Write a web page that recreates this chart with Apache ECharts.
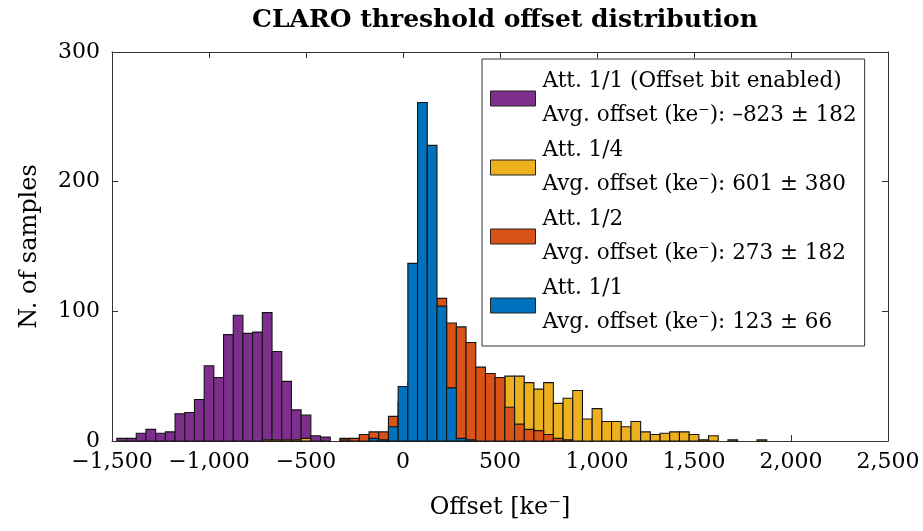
<!DOCTYPE html>
<html>
<head>
<meta charset="utf-8">
<script src="https://cdn.jsdelivr.net/npm/echarts@6/dist/echarts.min.js"></script>
<style>html,body{margin:0;padding:0;background:#fff;}#c{width:923px;height:531px;}</style>
</head>
<body>
<div id="c"></div>
<script>
// Bin centers (ke-), bin width 50
const binCenters = [-1450,-1400,-1350,-1300,-1250,-1200,-1150,-1100,-1050,-1000,-950,-900,-850,-800,-750,-700,-650,-600,-550,-500,-450,-400,-350,-300,-250,-200,-150,-100,-50,
  0,50,100,150,200,250,300,350,400,450,500,550,600,650,700,750,800,850,900,950,1000,1050,1100,1150,1200,1250,1300,1350,1400,1450,1500,1550,1600,1650,1700,1750,1800,1850];
const binWidth = 50;

// Att. 1/1 (Offset bit enabled)
const purpleCounts = [2,2,6,9,6,7,21,22,32,58,49,82,97,83,84,99,69,46,24,20,4,3,0,0,0,0,0,0,0,
  0,0,0,0,0,0,0,0,0,0,0,0,0,0,0,0,0,0,0,0,0,0,0,0,0,0,0,0,0,0,0,0,0,0,0,0,0,0];
// Att. 1/4
const yellowCounts = [0,0,0,0,0,0,0,0,0,0,0,0,0,0,0,1,1,1,1,2,0,0,0,2,1,3,4,5,7,
  9,11,14,17,21,25,30,34,38,43,46,50,50,45,40,45,29,33,39,17,25,15,15,11,15,7,5,6,7,7,5,1,4,0,1,0,0,1];
// Att. 1/2
const orangeCounts = [0,0,0,0,0,0,0,0,0,0,0,0,0,0,0,0,0,0,0,0,0,0,0,1,2,5,7,7,19,
  30,45,60,75,110,91,88,76,57,52,49,26,13,9,8,5,2,1,0,0,0,0,0,0,0,0,0,0,0,0,0,0,0,0,0,0,0,0];
// Att. 1/1
const blueCounts = [0,0,0,0,0,0,0,0,0,0,0,0,0,0,0,0,0,0,0,0,0,0,0,0,0,0,2,1,11,
  42,137,261,228,104,41,2,1,0,0,0,0,0,0,0,0,0,0,0,0,0,0,0,0,0,0,0,0,0,0,0,0,0,0,0,0,0,0];

const seriesTitles = ['Att. 1/1 (Offset bit enabled)', 'Att. 1/4', 'Att. 1/2', 'Att. 1/1'];
const seriesStats = ['Avg. offset (ke\u207B): \u2013823 \u00B1 182', 'Avg. offset (ke\u207B): 601 \u00B1 380',
  'Avg. offset (ke\u207B): 273 \u00B1 182', 'Avg. offset (ke\u207B): 123 \u00B1 66'];
const seriesColors = ['#7E2F8E', '#EDB120', '#D95319', '#0072BD'];
const allCounts = [purpleCounts, yellowCounts, orangeCounts, blueCounts];

const xTicks = {min: -1500, max: 2500, interval: 500};
const yTicks = {min: 0, max: 300, interval: 100};

const FONT = 'DejaVu Serif';
function fmt(v) {
  const a = Math.abs(v);
  let s = String(a);
  if (a >= 1000) s = s.slice(0, s.length - 3) + ',' + s.slice(s.length - 3);
  return (v < 0 ? '\u2212' : '') + s;
}

const names = seriesTitles.map((t, i) => t + '\n' + seriesStats[i]);

const series = allCounts.map((counts, i) => ({
  type: 'custom',
  name: names[i],
  xAxisIndex: 0, yAxisIndex: 0,
  itemStyle: {color: seriesColors[i]},
  data: binCenters.map((c, k) => [c, counts[k]]),
  encode: {x: 0, y: 1},
  renderItem: function (params, api) {
    const c = api.value(0), v = api.value(1);
    if (!v) return null;
    const p1 = api.coord([c - binWidth / 2, v]);
    const p2 = api.coord([c + binWidth / 2, 0]);
    return {
      type: 'rect',
      shape: {x: p1[0], y: p1[1], width: p2[0] - p1[0], height: p2[1] - p1[1]},
      style: {fill: seriesColors[i], stroke: '#141414', lineWidth: 1.1}
    };
  }
}));

const axisLineStyle = {color: '#333', width: 1};
const chart = echarts.init(document.getElementById('c'), null, {renderer: 'canvas'});
chart.setOption({
  animation: false,
  backgroundColor: '#fff',
  title: {
    text: 'CLARO threshold offset distribution',
    left: 500, top: 3, textAlign: 'center',
    textStyle: {fontFamily: FONT, fontWeight: 'bold', fontSize: 25, color: '#000'}
  },
  grid: {left: 112, right: 35, top: 52, bottom: 90},
  legend: {
    orient: 'vertical', left: 482, top: 59,
    padding: [5, 8, 6, 8], itemGap: 0,
    itemWidth: 45, itemHeight: 15,
    backgroundColor: '#fff', borderColor: '#333', borderWidth: 1,
    textStyle: {fontFamily: FONT, fontSize: 21.5, lineHeight: 34.5, color: '#000', padding: [0, 0, 0, 2]},
    data: names.map((n, i) => ({name: n, icon: 'rect', itemStyle: {color: seriesColors[i], borderColor: '#222', borderWidth: 1}}))
  },
  xAxis: [{
    type: 'value', min: xTicks.min, max: xTicks.max, interval: xTicks.interval,
    name: 'Offset [ke\u207B]', nameLocation: 'middle', nameGap: 55,
    nameTextStyle: {fontFamily: FONT, fontSize: 24, color: '#000'},
    axisLine: {show: true, onZero: false, lineStyle: axisLineStyle},
    axisTick: {show: true, inside: true, length: 6, lineStyle: axisLineStyle},
    axisLabel: {formatter: fmt, fontFamily: FONT, fontSize: 22, color: '#000', margin: 10},
    splitLine: {show: false}
  }, {
    type: 'value', position: 'top', min: xTicks.min, max: xTicks.max, interval: xTicks.interval,
    axisLine: {show: true, onZero: false, lineStyle: axisLineStyle},
    axisTick: {show: true, inside: true, length: 6, lineStyle: axisLineStyle},
    axisLabel: {show: false}, splitLine: {show: false}
  }],
  yAxis: [{
    type: 'value', min: yTicks.min, max: yTicks.max, interval: yTicks.interval,
    name: 'N. of samples', nameLocation: 'middle', nameGap: 70,
    nameTextStyle: {fontFamily: FONT, fontSize: 24, color: '#000'},
    axisLine: {show: true, onZero: false, lineStyle: axisLineStyle},
    axisTick: {show: true, inside: true, length: 6, lineStyle: axisLineStyle},
    axisLabel: {fontFamily: FONT, fontSize: 22, color: '#000', margin: 12},
    splitLine: {show: false}
  }, {
    type: 'value', position: 'right', min: yTicks.min, max: yTicks.max, interval: yTicks.interval,
    axisLine: {show: true, onZero: false, lineStyle: axisLineStyle},
    axisTick: {show: true, inside: true, length: 6, lineStyle: axisLineStyle},
    axisLabel: {show: false}, splitLine: {show: false}
  }],
  series: series
});
</script>
</body>
</html>
